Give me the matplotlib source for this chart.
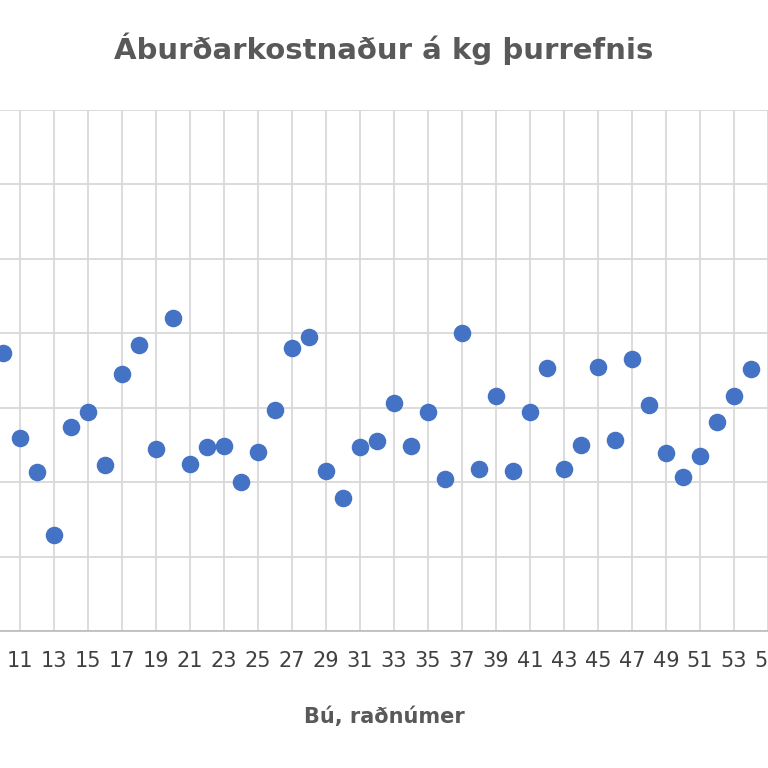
import matplotlib
matplotlib.use("Agg")
import matplotlib.pyplot as plt

bu = list(range(10, 55))
kostn = [3.74, 2.59, 2.14, 1.29, 2.74, 2.94, 2.23, 3.45, 3.84, 2.45, 4.21, 2.24, 2.47, 2.49, 2.00,
         2.41, 2.97, 3.80, 3.95, 2.15, 1.79, 2.47, 2.55, 3.06, 2.49, 2.94, 2.04, 4.01, 2.18, 3.16,
         2.15, 2.94, 3.53, 2.18, 2.50, 3.55, 2.57, 3.66, 3.04, 2.39, 2.07, 2.35, 2.81, 3.16, 3.52]
xticks = list(range(11, 56, 2))

fig = plt.figure(figsize=(7.68, 7.68), dpi=100)
ax = fig.add_axes([0, 0.178, 1, 0.679])
ax.scatter(bu, kostn, s=135, color="#4472C4", zorder=3)
ax.set_xlim(9.85, 54.5)
ax.set_ylim(0, 7)
ax.set_xticks(xticks)
ax.set_xticklabels([str(t) for t in xticks], fontsize=15, color="#404040")
ax.set_yticks(range(0, 8))
ax.set_yticklabels([])
ax.grid(True, color="#D9D9D9", linewidth=1.3)
ax.tick_params(length=0, pad=14)
for s in ["top", "left", "right"]:
    ax.spines[s].set_visible(False)
ax.spines["bottom"].set_color("#BFBFBF")
ax.spines["bottom"].set_linewidth(1.3)
ax.set_xlabel("Bú, raðnúmer", fontsize=15, fontweight="bold", color="#595959", labelpad=26)
fig.text(0.5, 0.937, "Áburðarkostnaður á kg þurrefnis", ha="center", va="center",
         fontsize=21, fontweight="bold", color="#595959")
fig.savefig("out.png", dpi=100)
